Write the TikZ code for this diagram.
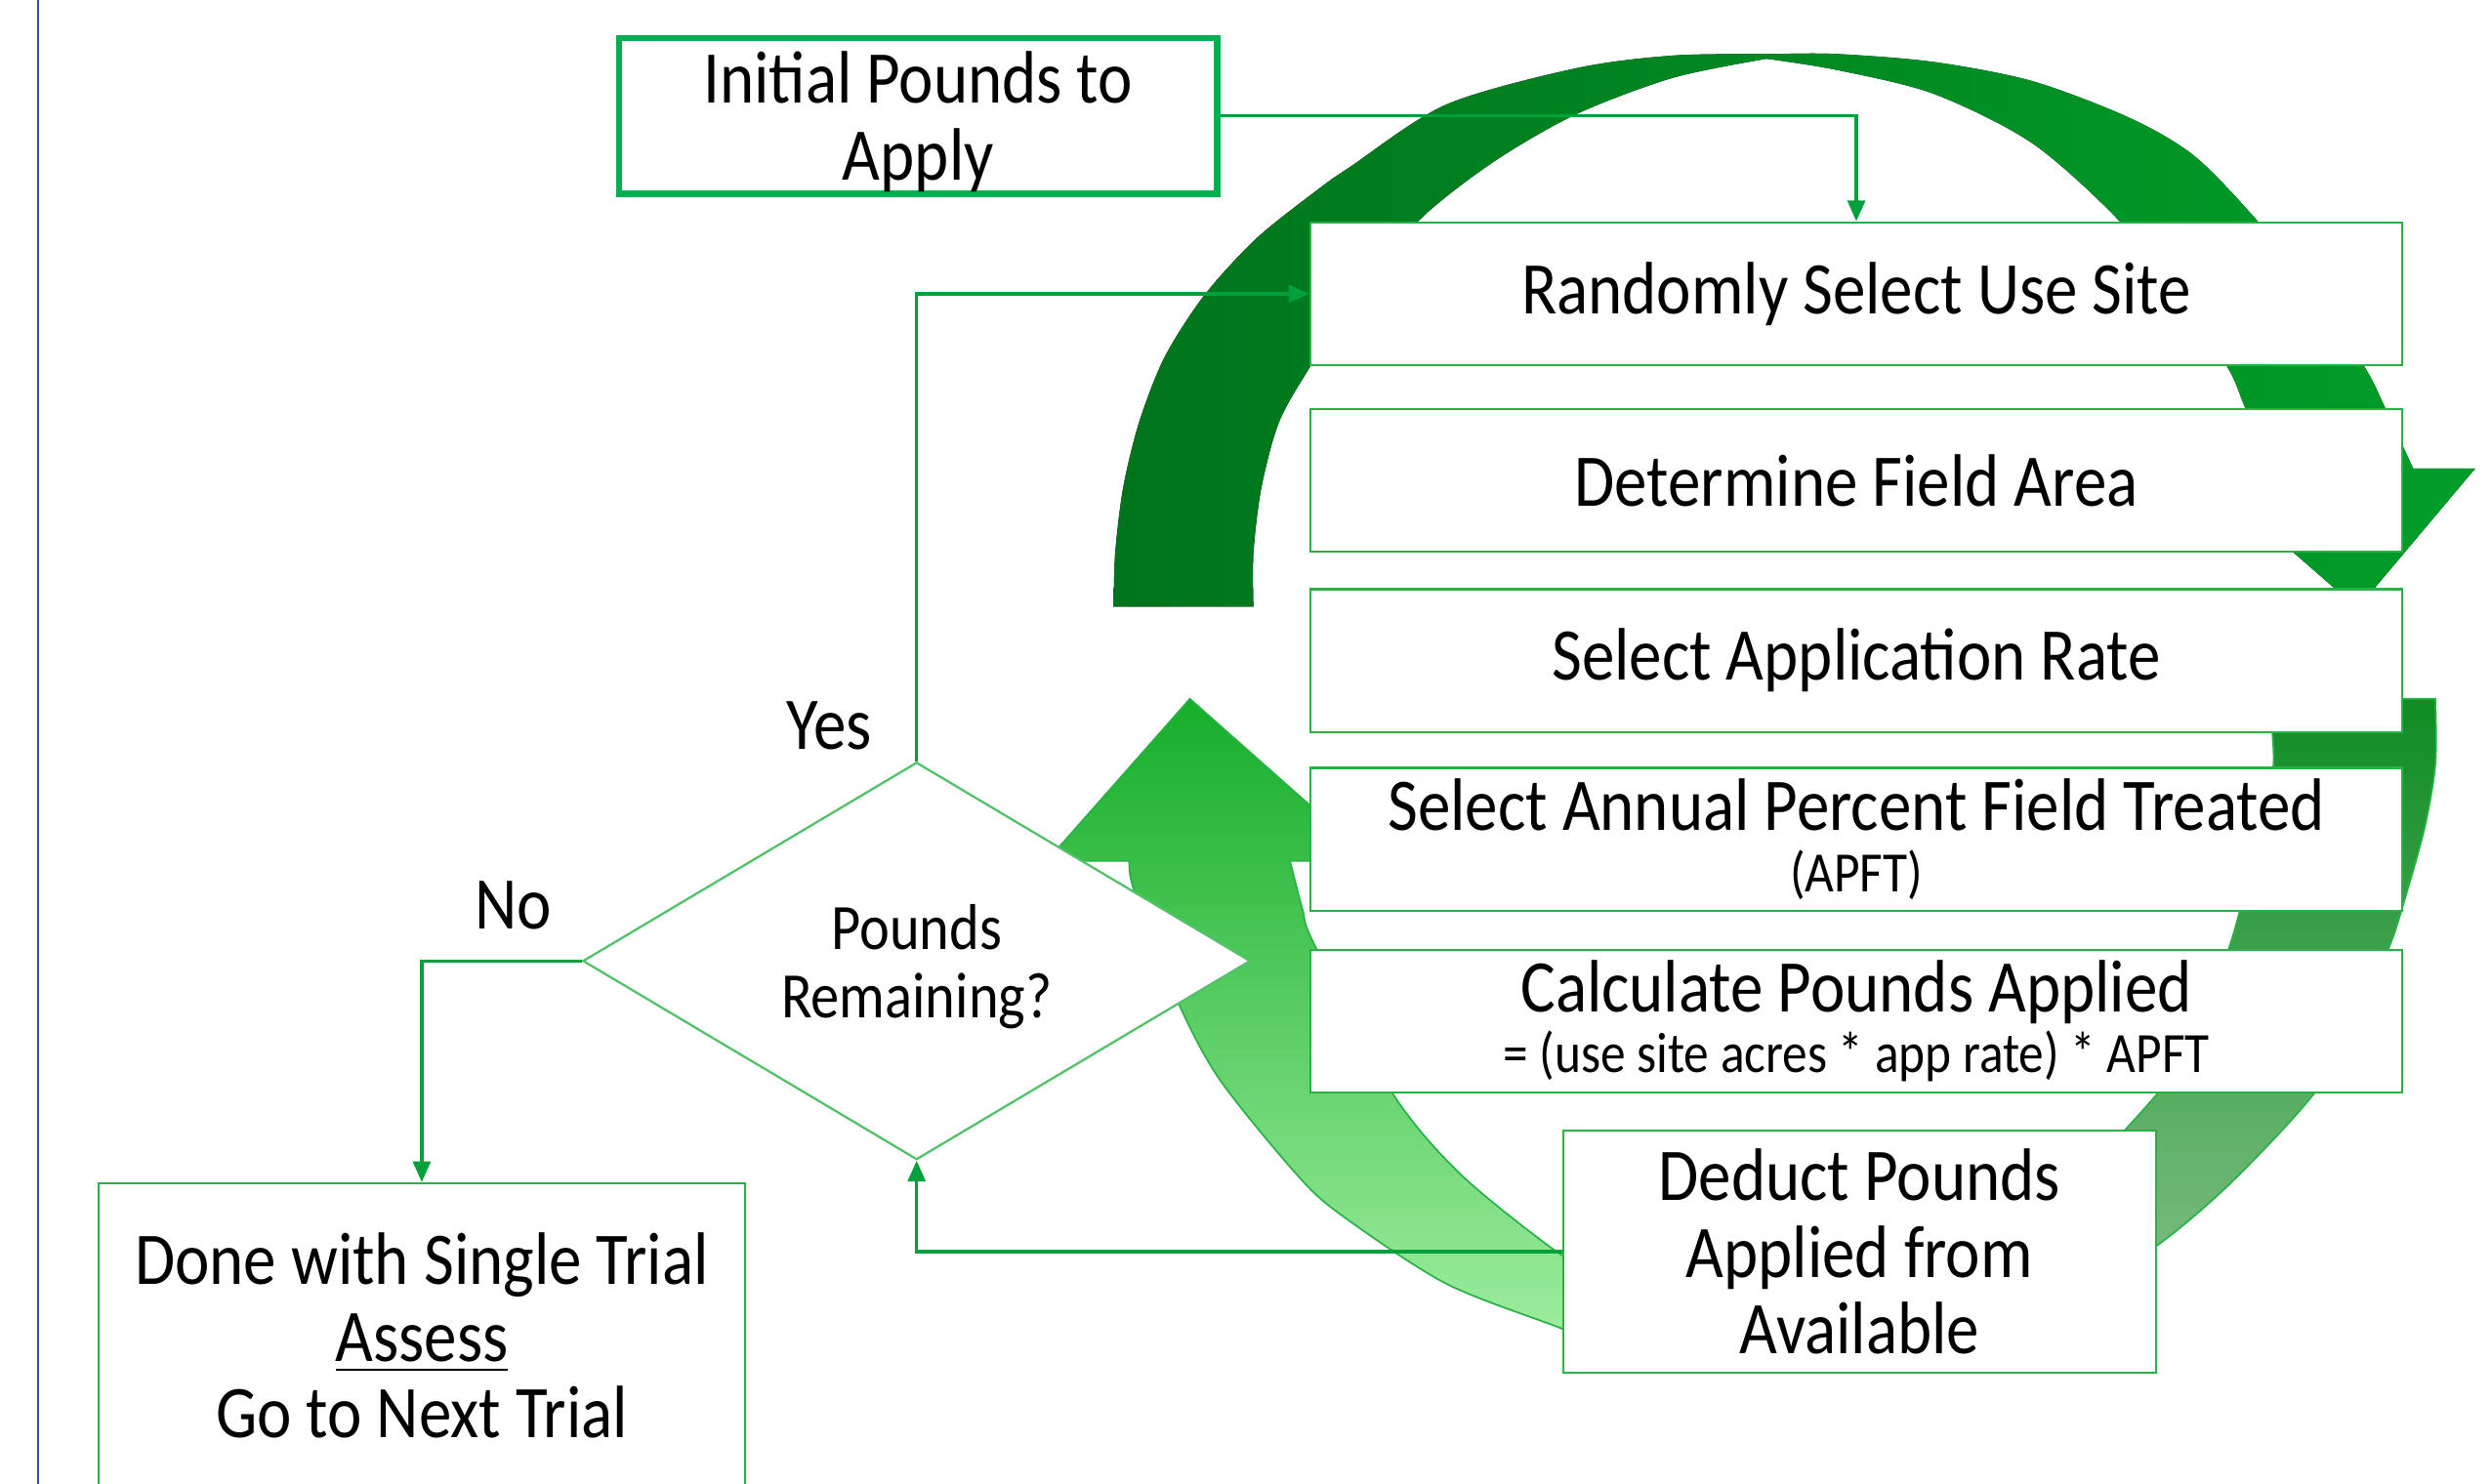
\documentclass[tikz,border=0pt]{standalone}
\usepackage{fontspec}
\setmainfont{Carlito}[FakeStretch=0.88]
\usepackage{xcolor}
\usepackage{tikz}
\usetikzlibrary{arrows.meta,positioning,shapes.geometric}
\definecolor{flowgreen}{RGB}{0,160,60}
\definecolor{boxgreen}{RGB}{40,178,70}
\definecolor{initgreen}{RGB}{0,176,80}
\definecolor{pageblue}{RGB}{60,80,160}
\definecolor{arcdark}{RGB}{0,116,28}
\definecolor{arctop}{RGB}{55,140,65}
\definecolor{arcmid}{RGB}{0,158,40}
\definecolor{arcdeep}{RGB}{15,140,35}
\definecolor{arcpale}{RGB}{125,190,130}
\definecolor{upgreen}{RGB}{22,174,42}
\definecolor{uppale}{RGB}{160,238,160}

\begin{document}
\begin{tikzpicture}[x=0.01cm, y=-0.01cm,
  txt/.style={font=\fontsize{13.3}{13.7}\selectfont},
  stepbox/.style={draw=boxgreen, line width=0.4pt, fill=white, minimum width=6.87cm, minimum height=0.9cm, inner sep=0pt, align=center, txt},
  flow/.style={draw=flowgreen, line width=0.6pt, -{Triangle[length=1.3mm, width=1.1mm]}}]
\useasboundingbox (0,0) rectangle (1568,934);
\draw[pageblue, line width=0.5pt] (24,0) -- (24,934);
\fill[left color=arcdark, middle color=arctop, right color=arcmid]
  (701,382) -- plot[smooth] coordinates {(701,382) (702,348) (707,307) (717,266) (733,225) (758,186) (791,150) (830,119) (850,105) (910,66) (992,43) (1053,35) (1115,34) (1156,34) (1217,39) (1279,51) (1340,74) (1381,98) (1420,138) (1458,185) (1489,232) (1501,256) (1519,295)}
  -- (1558,295) -- (1484,383) -- (1383,295) -- (1430,295)
  -- plot[smooth] coordinates {(1430,295) (1413,256) (1402,231) (1370,185) (1333,138) (1279,90) (1217,59) (1156,44) (1112,37)}
  -- plot[smooth] coordinates {(1112,37) (1053,49) (992,72) (940,102) (894,138) (855,185) (824,232) (805,266) (794,307) (789,348) (789,382)}
  -- cycle;
\filldraw[top color=arcdeep, bottom color=arcpale, draw=boxgreen, line width=0.3pt]
  (1428,440) -- (1533,440) -- plot[smooth] coordinates {(1533,440) (1533,481) (1526,522) (1512,572) (1504,596) (1485,640) (1457,688) (1405,744) (1358,784) (1310,812)}
  -- (1300,748) -- plot[smooth] coordinates {(1300,748) (1338,711) (1375,665) (1404,594) (1420,530) (1431,482) (1428,440)} -- cycle;
\filldraw[top color=upgreen, bottom color=uppale, draw=boxgreen, line width=0.3pt]
  (1010,848) -- plot[smooth] coordinates {(1010,848) (982,836) (910,808) (843,764) (815,738) (768,680) (742,632) (714,561) (711,542)}
  -- (659,542) -- (749,440) -- (864,542) -- (812,542)
  -- plot[smooth] coordinates {(812,542) (820,573) (827,594) (875,686) (918,738) (977,786) (1010,805)} -- cycle;
\node[stepbox, draw=initgreen, line width=1.1pt, minimum width=3.76cm, minimum height=0.98cm, text depth=0pt] (init) at (578,73) {Initial Pounds to\\Apply};
\node[stepbox] (use) at (1168.5,185) {Randomly Select Use Site};
\node[stepbox, below=0.26cm of use] (area) {Determine Field Area};
\node[stepbox, below=0.22cm of area] (rate) {Select Application Rate};
\node[stepbox, below=0.21cm of rate] (apft) {Select Annual Percent Field Treated\\[-2.75pt]{\fontsize{10.2}{12}\selectfont (APFT)}};
\node[stepbox, below=0.23cm of apft] (calc) {Calculate Pounds Applied\\[-2.75pt]{\fontsize{10.2}{12}\selectfont = (use site acres * app rate) * APFT}};
\node[stepbox, minimum width=3.73cm, minimum height=1.52cm] (deduct) at (1170.5,788) {Deduct Pounds\\Applied from\\Available};
\node[diamond, draw=boxgreen!80, line width=0.4pt, fill=white, aspect=1.68, minimum width=4.2cm, minimum height=2.5cm, inner sep=0pt, align=center, text depth=0pt, font=\fontsize{11.6}{12.2}\selectfont] (dec) at (577,605) {Pounds\\Remaining?};
\node[stepbox, minimum width=4.07cm, minimum height=1.92cm] (done) at (265.5,841) {Done with Single Trial\\\underline{Assess}\\Go to Next Trial};
\node[txt] (yes) at (522,457) {Yes};
\node[txt] (no) at (323,570) {No};
\draw[flow] (init.east) -| (use.north);
\draw[flow] (dec.north) |- (use.west);
\draw[flow] (dec.west) -| (done.north);
\draw[flow] (deduct.west) -| (dec.south);
\end{tikzpicture}
\end{document}
